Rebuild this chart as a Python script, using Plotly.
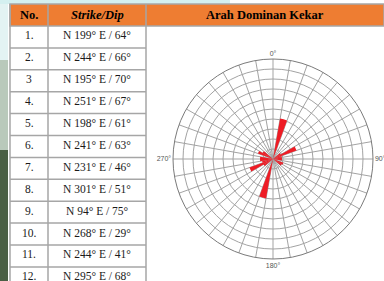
import plotly.graph_objects as go

W, H = 384, 281

# ---- table data ----
row_numbers = ["1.", "2.", "3", "4.", "5.", "6.", "7.", "8.", "9.", "10.", "11.", "12."]
strike_dip = ["N 199° E / 64°", "N 244° E / 66°", "N 195° E / 70°", "N 251° E / 67°",
              "N 198° E / 61°", "N 241° E / 63°", "N 231° E / 46°", "N 301° E / 51°",
              "N 94° E / 75°", "N 268° E / 29°", "N 244° E / 41°", "N 295° E / 68°"]
headers = ["No.", "<i>Strike/Dip</i>", "Arah Dominan Kekar"]

# ---- rose diagram data (10° bins, bin centre in degrees, petal length) ----
rose_theta = [15, 195, 65, 245, 295, 115, 305, 125, 265, 85, 275, 95, 235, 55, 255, 75]
rose_r = [4.1, 4.0, 2.5, 2.5, 1.6, 1.1, 1.2, 1.0, 1.3, 0.9, 1.3, 0.9, 1.1, 0.9, 1.1, 0.9]
angle_labels = {0: "0°", 90: "90°", 180: "180°", 270: "270°"}


def fx(x):
    return x / W


def fy(y):
    return 1 - y / H


fig = go.Figure()

fig.add_trace(go.Barpolar(
    theta=rose_theta, r=rose_r, width=[10] * len(rose_theta),
    marker=dict(color="#ee1c25", line=dict(width=0)),
    showlegend=False, hoverinfo="skip",
))

tick_vals = list(range(0, 360, 10))
tick_text = [angle_labels.get(v, "") for v in tick_vals]

cx, cy, rad = 273, 159, 100
fig.update_layout(
    width=W, height=H,
    margin=dict(l=0, r=0, t=0, b=0, autoexpand=False),
    paper_bgcolor="white",
    polar=dict(
        domain=dict(x=[fx(cx - rad), fx(cx + rad)], y=[fy(cy + rad), fy(cy - rad)]),
        bgcolor="white",
        radialaxis=dict(range=[0, 10], dtick=1, showticklabels=False, ticks="",
                        showline=False, gridcolor="#a3a3a3", gridwidth=0.8),
        angularaxis=dict(direction="clockwise", rotation=90, tickmode="array",
                         tickvals=tick_vals, ticktext=tick_text, ticks="",
                         tickfont=dict(family="Liberation Sans", size=7, color="#555"),
                         gridcolor="#a3a3a3", gridwidth=0.8,
                         linecolor="#7a7a7a", linewidth=1),
    ),
)

shapes = []
annotations = []

# left photo strip and top remnant
shapes.append(dict(type="rect", xref="paper", yref="paper", x0=fx(0), x1=fx(8),
                   y0=fy(281), y1=fy(150), fillcolor="#4a5f45", line=dict(width=0), layer="below"))
shapes.append(dict(type="rect", xref="paper", yref="paper", x0=fx(0), x1=fx(8),
                   y0=fy(150), y1=fy(60), fillcolor="#b9c9bb", line=dict(width=0), layer="below"))
shapes.append(dict(type="rect", xref="paper", yref="paper", x0=fx(0), x1=fx(8),
                   y0=fy(60), y1=fy(0), fillcolor="#e3f3f3", line=dict(width=0), layer="below"))
shapes.append(dict(type="rect", xref="paper", yref="paper", x0=fx(0), x1=fx(230),
                   y0=fy(4), y1=fy(0), fillcolor="#d4f0f0", line=dict(width=0), layer="below"))

# table geometry
x_cols = [10, 48, 146, 384]
y_head = [4, 26]
row_h = 21.9
y_rows = [y_head[1] + i * row_h for i in range(len(row_numbers) + 1)]
border = "#a6a6a6"

# header
shapes.append(dict(type="rect", xref="paper", yref="paper", x0=fx(x_cols[0]), x1=fx(x_cols[-1]),
                   y0=fy(y_head[1]), y1=fy(y_head[0]), fillcolor="#ee7d32",
                   line=dict(color=border, width=1.5)))
for i, h in enumerate(headers):
    annotations.append(dict(xref="paper", yref="paper", x=fx((x_cols[i] + x_cols[i + 1]) / 2),
                            y=fy(sum(y_head) / 2), text="<b>" + h + "</b>", showarrow=False,
                            xanchor="center", yanchor="middle",
                            font=dict(family="Liberation Serif", size=12.5, color="black")))

# vertical borders
for xv in x_cols[:3]:
    shapes.append(dict(type="line", xref="paper", yref="paper", x0=fx(xv), x1=fx(xv),
                       y0=fy(y_head[0]), y1=fy(H), line=dict(color=border, width=1.5)))
# horizontal borders for first two columns
for yv in y_rows[1:]:
    shapes.append(dict(type="line", xref="paper", yref="paper", x0=fx(x_cols[0]), x1=fx(x_cols[2]),
                       y0=fy(yv), y1=fy(yv), line=dict(color=border, width=1.5)))

for i, (n, s) in enumerate(zip(row_numbers, strike_dip)):
    yc = (y_rows[i] + y_rows[i + 1]) / 2 - 1.5
    annotations.append(dict(xref="paper", yref="paper", x=fx((x_cols[0] + x_cols[1]) / 2), y=fy(yc),
                            text=n, showarrow=False, xanchor="center", yanchor="middle",
                            font=dict(family="Liberation Serif", size=11.5, color="#1a1a1a")))
    annotations.append(dict(xref="paper", yref="paper", x=fx((x_cols[1] + x_cols[2]) / 2), y=fy(yc),
                            text=s, showarrow=False, xanchor="center", yanchor="middle",
                            font=dict(family="Liberation Serif", size=11.5, color="#1a1a1a")))

fig.update_layout(shapes=shapes, annotations=annotations)

fig.write_html("out.html", config={"displayModeBar": False},
               post_script="document.body.style.margin='0';document.body.style.overflow='hidden';")
